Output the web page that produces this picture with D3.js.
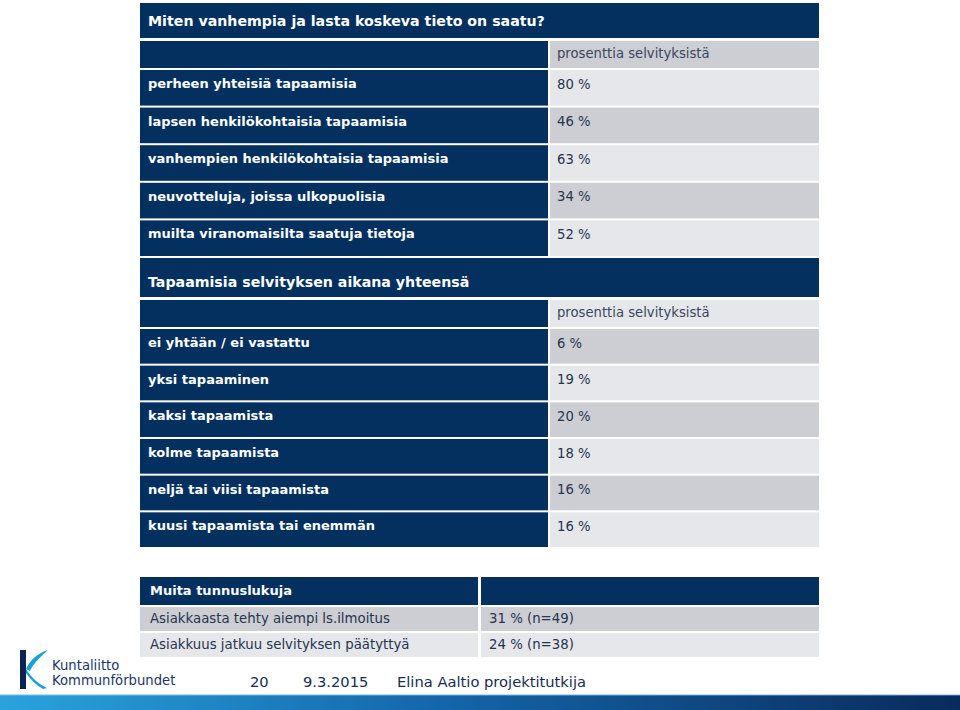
<!DOCTYPE html>
<html><head><meta charset="utf-8">
<script src="https://cdn.jsdelivr.net/npm/d3@7"></script>
<style>body{margin:0;background:#fff;overflow:hidden}</style>
</head><body>
<script>
// ---------- data ----------
const sourceTitle = "Miten vanhempia ja lasta koskeva tieto on saatu?";
const columnHeader = "prosenttia selvityksistä";
const sourceCategories = ["perheen yhteisiä tapaamisia","lapsen henkilökohtaisia tapaamisia","vanhempien henkilökohtaisia tapaamisia","neuvotteluja, joissa ulkopuolisia","muilta viranomaisilta saatuja tietoja"];
const sourceValues = [80,46,63,34,52];
const meetingTitle = "Tapaamisia selvityksen aikana yhteensä";
const meetingCategories = ["ei yhtään / ei vastattu","yksi tapaaminen","kaksi tapaamista","kolme tapaamista","neljä tai viisi tapaamista","kuusi tapaamista tai enemmän"];
const meetingValues = [6,19,20,18,16,16];
const otherTitle = "Muita tunnuslukuja";
const otherCategories = ["Asiakkaasta tehty aiempi ls.ilmoitus","Asiakkuus jatkuu selvityksen päätyttyä"];
const otherValues = [31,24];
const otherCounts = [49,38];
const footerItems = ["20","9.3.2015","Elina Aaltio projektitutkija"];
const logoLines = ["Kuntaliitto","Kommunförbundet"];

// ---------- styles ----------
const NAVY = "#03305f", GRAY_D = "#cdced3", GRAY_L = "#e6e7ea", TXT = "#27334f";
const FONT = "'DejaVu Sans', Verdana, sans-serif";

const svg = d3.select("body").append("svg").attr("width",960).attr("height",710);

const pct = v => v + " %";

function cell(x0,x1,y0,y1,fill){
  svg.append("rect").attr("x",x0).attr("y",y0).attr("width",x1-x0).attr("height",y1-y0).attr("fill",fill);
}
function txt(x,y,s,opt){
  return svg.append("text").attr("x",x).attr("y",y).attr("dominant-baseline","middle")
    .attr("font-family",FONT).attr("font-size",opt.size).attr("font-weight",opt.bold?"bold":"normal")
    .attr("fill",opt.fill).text(s);
}

const X0 = 140, XM = 548, XR = 550, X1 = 819;

// section drawer: title row, header row, band rows
function section(title, titleY, headerY, cats, vals, bandRange, firstDark){
  cell(X0,X1,titleY[0],titleY[1],NAVY);
  txt(148,titleY[1]-titleY[2],title,{size:14.2,bold:true,fill:"#fff"});
  cell(X0,XM,headerY[0],headerY[1],NAVY);
  cell(XR,X1,headerY[0],headerY[1],firstDark?GRAY_D:GRAY_L);
  txt(557,(headerY[0]+headerY[1])/2-1,columnHeader,{size:13.2,fill:"#3a4560"});
  const y = d3.scaleBand().domain(cats).range(bandRange).paddingInner(2/( (bandRange[1]-bandRange[0]+2)/cats.length ));
  cats.forEach((c,i)=>{
    const t = y(c), b = t + y.bandwidth();
    cell(X0,XM,t,b,NAVY);
    cell(XR,X1,t,b,(i%2===0)===firstDark?GRAY_L:GRAY_D);
    txt(148,t+14.5,c,{size:13,bold:true,fill:"#fff"});
    txt(557,t+14.5,pct(vals[i]),{size:13.2,fill:TXT});
  });
}

section(sourceTitle,[3,38,16],[41,68],sourceCategories,sourceValues,[70,256],true);
section(meetingTitle,[258,297,14],[300,327],meetingCategories,meetingValues,[329,547],false);

// ---------- third table ----------
const XL3 = 478, XR3 = 481;
cell(X0,XL3,577,605,NAVY); cell(XR3,X1,577,605,NAVY);
txt(150,591,otherTitle,{size:13,bold:true,fill:"#fff"});
const y3 = d3.scaleBand().domain(otherCategories).range([607,657]).paddingInner(4/52);
otherCategories.forEach((c,i)=>{
  const t = y3(c), b = t + y3.bandwidth(), f = i%2===0?GRAY_D:GRAY_L;
  cell(X0,XL3,t,b,f); cell(XR3,X1,t,b,f);
  txt(150,(t+b)/2,c,{size:13.3,fill:TXT});
  txt(489,(t+b)/2,pct(otherValues[i])+" (n="+otherCounts[i]+")",{size:13.3,fill:TXT});
});

// ---------- footer ----------
const fx = [250,303,397];
footerItems.forEach((s,i)=>txt(fx[i],683,s,{size:14.7,fill:"#1a2b52"}));

// bottom gradient bar
const defs = svg.append("defs");
const g = defs.append("linearGradient").attr("id","bar").attr("x1","0").attr("x2","1");
g.append("stop").attr("offset","0").attr("stop-color","#2aa3dc");
g.append("stop").attr("offset","0.45").attr("stop-color","#1467ab");
g.append("stop").attr("offset","1").attr("stop-color","#0a2a5c");
svg.append("rect").attr("x",0).attr("y",695).attr("width",960).attr("height",15).attr("fill","url(#bar)");
svg.append("rect").attr("x",0).attr("y",694).attr("width",960).attr("height",1.5).attr("fill","#9fd0ee").attr("opacity",0.7);

// logo
svg.append("rect").attr("x",20).attr("y",650).attr("width",6).attr("height",39).attr("fill","#0b2350");
svg.append("path").attr("d","M26,669 C30,660 38,653 48,650 C40,657 33,664 30,671 Z").attr("fill","#1aa0d8");
svg.append("path").attr("d","M26,669 C31,677 38,684 47,688 L43,689 C36,685 30,679 26,673 Z").attr("fill","#1aa0d8");
txt(52,666,logoLines[0],{size:13.2,fill:"#1c3468"});
txt(52,681,logoLines[1],{size:13.2,fill:"#1c3468"});
</script>
</body></html>
